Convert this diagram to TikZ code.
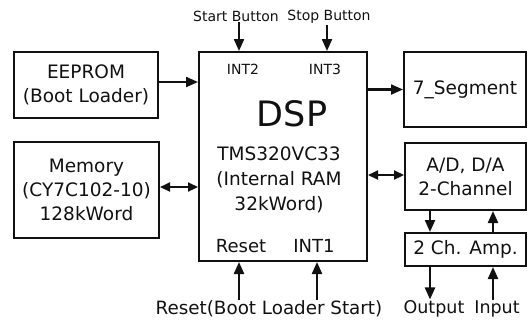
\documentclass[tikz,border=0pt]{standalone}
\usepackage{fontspec}
\usepackage{tikz}
\usepackage{xcolor}
\usetikzlibrary{
  arrows.meta, calc, positioning
}
\newfontfamily\diagfont{DejaVu Sans}
\definecolor{linedark}{HTML}{111111}
\tikzset{
  % Blocks — plain black frames
  unit/.style={
    draw=linedark, fill=white, line width=2pt,
    font=\diagfont\fontsize{18.5}{24}\selectfont, text=linedark,
    align=center, inner sep=2pt,
  },
  % Text inside the DSP block
  dsptitle/.style={font=\diagfont\fontsize{35}{38}\selectfont, text=linedark, inner sep=0pt},
  dspbody/.style={font=\diagfont\fontsize{18.5}{25}\selectfont, text=linedark,
                  align=center, inner sep=0pt},
  pinsmall/.style={font=\diagfont\fontsize{14}{16}\selectfont, text=linedark, inner sep=1pt},
  pinbig/.style={font=\diagfont\fontsize{18}{20}\selectfont, text=linedark, inner sep=1pt},
  % Outside signal labels
  siglabel/.style={font=\diagfont\fontsize{#1}{20}\selectfont, text=linedark, inner sep=1pt},
  % Arrows
  arr/.style={-{Triangle[length=12pt, width=10pt]}, line width=2.2pt, linedark},
  dblarr/.style={{Triangle[length=10pt, width=9pt]}-{Triangle[length=10pt, width=9pt]},
                 line width=2.2pt, linedark},
}

\begin{document}
\begin{tikzpicture}[x=1pt, y=-1pt]
    \useasboundingbox (0,0) rectangle (529,322);
    % blocks
    \node[unit, minimum width=144pt, minimum height=66pt] (eeprom) at (86,85)
      {EEPROM\\(Boot Loader)};
    \node[unit, minimum width=145pt, minimum height=96pt] (mem) at (86.5,190)
      {Memory\\(CY7C102-10)\\128kWord};
    \node[unit, minimum width=168pt, minimum height=209pt] (dsp) at (283,156.5) {};
    \node[unit, minimum width=122pt, minimum height=75pt] (seg) at (465,89.5)
      {7\_Segment};
    \node[unit, minimum width=121pt, minimum height=67pt] (adda) at (465.5,176.5)
      {A/D, D/A\\2-Channel};
    \node[unit, minimum width=121pt, minimum height=33pt] (amp) at (465.5,249.5)
      {2 Ch. Amp.};
    % inside the DSP
    \node[dsptitle] (dspname) at (292,114) {DSP};
    \node[dspbody] (dspchip) at (279,180) {TMS320VC33\\(Internal RAM\\32kWord)};
    \node[pinsmall] (int2) at (243,69) {INT2};
    \node[pinsmall] (int3) at (325,69) {INT3};
    \node[pinbig] (rstpin) at (241,246) {Reset};
    \node[pinbig] (int1) at (314,246) {INT1};
    % outside labels
    \node[siglabel=14] (startbtn) at (236,16) {Start Button};
    \node[siglabel=14] (stopbtn) at (329,17) {Stop Button};
    \node[siglabel=18.3] (bootrst) at (269,309) {Reset(Boot Loader Start)};
    \node[siglabel=17.5] (outsig) at (434,309) {Output};
    \node[siglabel=17.5] (insig) at (497,309) {Input};
    % connectors
    \draw[arr] (eeprom.east |- 0,82) -- (dsp.west |- 0,82);
    \draw[dblarr] (mem.east |- 0,187) -- (dsp.west |- 0,187);
    \draw[arr] (dsp.east |- seg.west) -- (seg.west);
    \draw[dblarr] (dsp.east |- 0,175) -- (adda.west |- 0,175);
    \draw[arr] (startbtn.south -| 239,0) -- (dsp.north -| 239,0);
    \draw[arr] (stopbtn.south -| 327,0) -- (dsp.north -| 327,0);
    \draw[arr] (bootrst.north -| 239,0) -- (dsp.south -| 239,0);
    \draw[arr] (bootrst.north -| 317,0) -- (dsp.south -| 317,0);
    \draw[arr] (adda.south -| 430,0) -- (amp.north -| 430,0);
    \draw[arr] (amp.north -| 493,0) -- (adda.south -| 493,0);
    \draw[arr] (amp.south -| 430,0) -- (outsig.north -| 430,0);
    \draw[arr] (insig.north -| 493,0) -- (amp.south -| 493,0);
  \end{tikzpicture}
\end{document}
